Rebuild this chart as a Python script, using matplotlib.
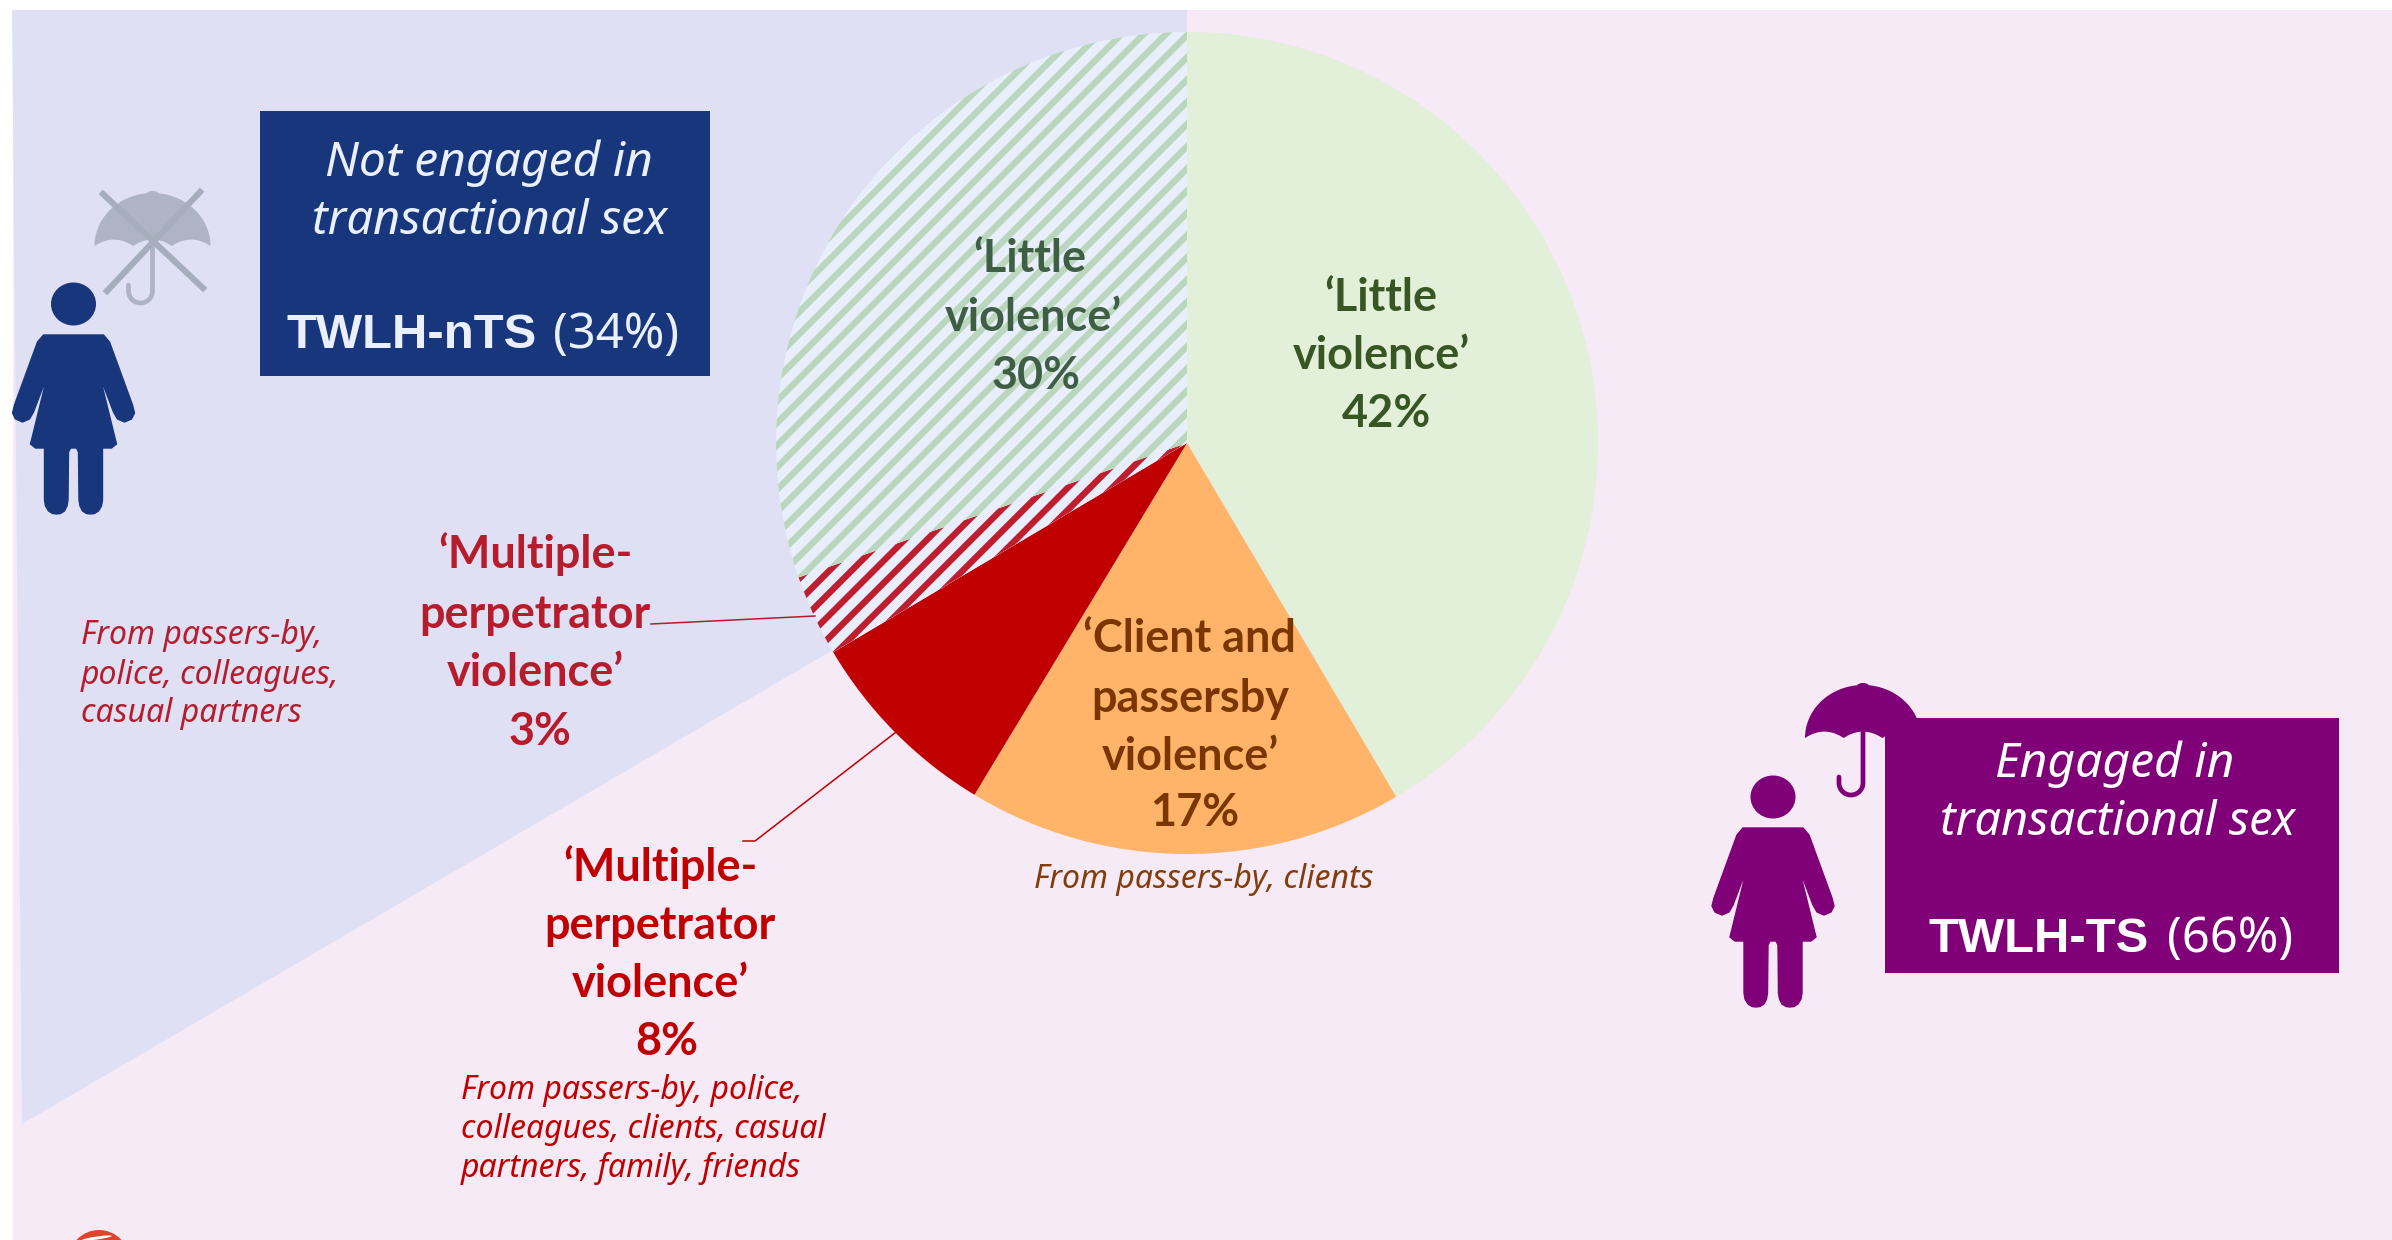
import numpy as np
import matplotlib
matplotlib.use("Agg")
import matplotlib.pyplot as plt
from matplotlib.patches import Polygon, Ellipse, Rectangle

# slice sizes as drawn, clockwise from 12 o'clock (printed labels are 42, 17, 8, 3, 30)
profiles = ["Little TS", "Client and passersby TS", "Multiple TS", "Multiple nTS", "Little nTS"]
shares = [41.5, 17.15, 7.85, 3.2, 30.3]
face_colors = ["#E2EFD9", "#FFB469", "#C00000", "#E8EEFB", "#E8EEFB"]
hatch_colors = [None, None, None, "#BE1E2D", "#BAD6BD"]

DPI = 200
W, H = 2392, 1240
CX, CY, R = 1187, 443, 411

LAVENDER = "#E0E0F5"
PINK = "#F5EAF5"
NAVY = "#17367C"
PURPLE = "#800078"

plt.rcParams["hatch.linewidth"] = 2.3


def px(size):
    # font size given in image pixels
    return size * 72 / DPI


def label(x, y, s, size, color, family="Lato", weight="normal", style="normal", ha="center"):
    ax.text(x, y, s, fontsize=px(size), color=color, family=family, fontweight=weight,
            fontstyle=style, ha=ha, va="baseline", zorder=10)


def draw_woman(dx, dy, color):
    right = [(0, 335), (30, 335), (36, 342), (59, 405), (61, 413), (58, 419), (51, 422),
             (44, 419), (40, 412), (29, 383), (28, 383), (41, 436), (43, 444), (38, 448),
             (29, 448), (29, 500), (28, 506), (25, 511), (21, 513.5), (17, 514), (13, 513.5),
             (9, 511), (6.5, 506), (5.5, 500), (5, 452), (3, 448), (0, 448)]
    cx = 73.5 + dx
    pts = [(cx + a, b + dy) for a, b in right] + [(cx - a, b + dy) for a, b in right[::-1]]
    ax.add_patch(Polygon(pts, closed=True, fc=color, ec=color, lw=0.5, joinstyle="round", zorder=5))
    ax.add_patch(Ellipse((cx, 304 + dy), 45, 43, fc=color, ec="none", zorder=5))


def draw_umbrella(cx, top, color):
    hw, h = 58, 53
    bottom = top + h
    t = np.linspace(np.pi, 0, 60)
    pts = list(zip(cx + hw * np.cos(t), bottom - h * np.sin(t)))
    # scalloped lower rim
    edges = np.linspace(cx + hw, cx - hw, 4)
    for a, b in zip(edges[:-1], edges[1:]):
        s = np.linspace(0, 1, 12)
        pts += list(zip(a + (b - a) * s, bottom - 9 * 4 * s * (1 - s) / 1.4))
    ax.add_patch(Polygon(pts, closed=True, fc=color, ec="none", zorder=4))
    ax.add_patch(Ellipse((cx, top + 1), 12, 6, fc=color, ec="none", zorder=4))
    # handle with its hook
    a = np.linspace(0, np.pi, 30)
    hook_x = list(cx - 12 + 12 * np.cos(a))
    hook_y = list(top + 98 + 12 * np.sin(a))
    ax.plot([cx] + hook_x + [cx - 24], [bottom - 8] + hook_y + [top + 92], color=color,
            lw=1.7, solid_capstyle="round", zorder=4)


fig = plt.figure(figsize=(W / DPI, H / DPI), dpi=DPI, facecolor="white")
ax = fig.add_axes([0, 0, 1, 1])

# pie first, pie() resets the limits
wedges, _ = ax.pie(shares, center=(CX, CY), radius=R, startangle=-90, counterclock=True,
                   colors=face_colors, wedgeprops={"linewidth": 0})
for wedge, hc in zip(wedges, hatch_colors):
    wedge.set_zorder(3)
    if hc:
        wedge.set_hatch("///")
        wedge.set_edgecolor(hc)
        wedge.set_linewidth(0)

ax.set_xlim(0, W)
ax.set_ylim(H, 0)
ax.set_aspect("auto")
ax.axis("off")

# backdrop: pink slide with the lavender sector behind it
ax.add_patch(Rectangle((13, 10), W - 13, H - 10, fc=PINK, ec="none", zorder=0))
ax.add_patch(Polygon([(12, 10), (CX, 10), (CX, CY), (22, 1124)], closed=True,
                     fc=LAVENDER, ec="none", zorder=1))

# logo cut off at the bottom edge
ax.add_patch(Ellipse((99, 1262), 62, 64, fc="#E0452B", ec="none", zorder=2))
ax.add_patch(Ellipse((97, 1238), 30, 3, fc="white", ec="none", angle=-8, zorder=2))
ax.add_patch(Ellipse((97, 1250), 24, 14, fc="#2A2450", ec="none", zorder=2))

# legend boxes
ax.add_patch(Rectangle((260, 111), 450, 265, fc=NAVY, ec="none", zorder=6))
ax.add_patch(Rectangle((1885, 718), 454, 255, fc=PURPLE, ec="none", zorder=6))

draw_woman(0, 0, NAVY)
draw_woman(1699.5, 493, PURPLE)
draw_umbrella(152.5, 193, "#AEB4C4")
draw_umbrella(1863, 685, PURPLE)
ax.plot([103, 203], [194, 288], color="#A6ADBB", lw=2.2, zorder=5)
ax.plot([200, 107], [192, 291], color="#A6ADBB", lw=2.2, zorder=5)

# leader lines
ax.plot([651, 815], [624, 616], color="#B71C2C", lw=0.55, zorder=4)
ax.plot([743, 755, 900], [841, 841, 729], color="#C00000", lw=0.55, zorder=4)

BOX_FONT = "Noto Sans"
BOLD_FONT = "Liberation Sans"
label(489, 176, "Not engaged in", 48, "#EAF0FF", BOX_FONT, style="italic")
label(490, 234, "transactional sex", 47, "#EAF0FF", BOX_FONT, style="italic")
label(537, 348, "TWLH-nTS", 49, "#EAF0FF", BOLD_FONT, weight="bold", ha="right")
label(553, 348, "(34%)", 49, "#EAF0FF", BOX_FONT, ha="left")

label(2115, 777, "Engaged in", 48, "white", BOX_FONT, style="italic")
label(2118, 835, "transactional sex", 47, "white", BOX_FONT, style="italic")
label(2149, 952, "TWLH-TS", 49, "white", BOLD_FONT, weight="bold", ha="right")
label(2167, 952, "(66%)", 49, "white", BOX_FONT, ha="left")

# slice labels
for y, s, x in zip([272, 331, 389], ["‘Little", "violence’", "30%"], [1030, 1033, 1036]):
    label(x, y, s, 45, "#3F5F45", weight="bold")
for y, s, x in zip([311, 369, 427], ["‘Little", "violence’", "42%"], [1381, 1381, 1386]):
    label(x, y, s, 45, "#375623", weight="bold")
for y, s, x in zip([652, 712, 770, 826], ["‘Client and", "passersby", "violence’", "17%"], [1189, 1190, 1190, 1195]):
    label(x, y, s, 45, "#7A3600", weight="bold")
for y, s, x in zip([568, 628, 686, 745], ["‘Multiple-", "perpetrator", "violence’", "3%"], [535, 535, 535, 540]):
    label(x, y, s, 45, "#B71C2C", weight="bold")
for y, s, x in zip([881, 939, 997, 1055], ["‘Multiple-", "perpetrator", "violence’", "8%"], [660, 660, 660, 667]):
    label(x, y, s, 45, "#C00000", weight="bold")

# who the perpetrators were
for y, s in zip([644, 684, 722], ["From passers-by,", "police, colleagues,", "casual partners"]):
    label(81, y, s, 32, "#B71C2C", "Noto Sans", style="italic", ha="left")
label(1034, 888, "From passers-by, clients", 32, "#843C0C", "Noto Sans", style="italic", ha="left")
for y, s in zip([1099, 1138, 1177], ["From passers-by, police,", "colleagues, clients, casual", "partners, family, friends"]):
    label(461, y, s, 32, "#C00000", "Noto Sans", style="italic", ha="left")

fig.savefig("out.png", dpi=DPI, facecolor="white")
